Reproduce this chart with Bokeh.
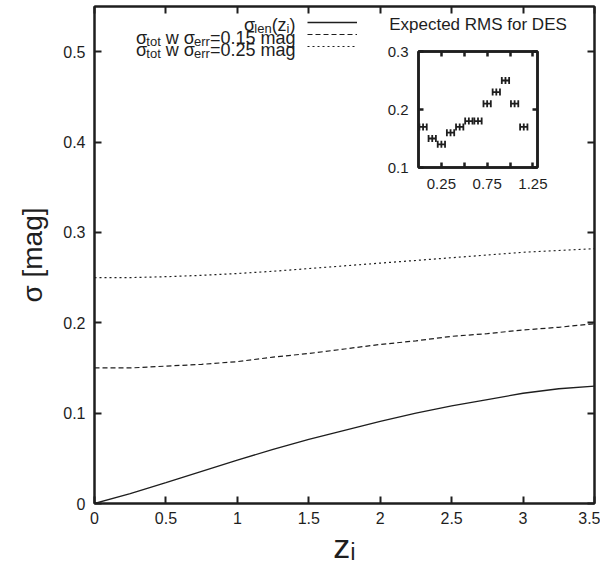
import math
from bokeh.plotting import figure
from bokeh.models import (Range1d, LinearAxis, FixedTicker, Label, Whisker, TeeHead,
                          ColumnDataSource, Legend, LegendItem)
from bokeh.embed import file_html
from bokeh.resources import INLINE

# ---------------- data ----------------
z = [0.0, 0.25, 0.5, 0.75, 1.0, 1.25, 1.5, 1.75, 2.0, 2.25, 2.5, 2.75, 3.0, 3.25, 3.5]
sigma_len = [0.000, 0.011, 0.023, 0.0355, 0.048, 0.060, 0.071, 0.081, 0.091, 0.100,
             0.108, 0.115, 0.122, 0.127, 0.130]
sigma_tot_015 = [0.150, 0.150, 0.152, 0.154, 0.157, 0.162, 0.166, 0.171, 0.176, 0.180,
                 0.185, 0.188, 0.192, 0.195, 0.199]
sigma_tot_025 = [0.250, 0.250, 0.251, 0.2525, 0.2545, 0.257, 0.260, 0.263, 0.266, 0.269,
                 0.272, 0.275, 0.278, 0.280, 0.282]

x_ticks = [0, 0.5, 1, 1.5, 2, 2.5, 3, 3.5]
x_tick_labels = ["0", "0.5", "1", "1.5", "2", "2.5", "3", "3.5"]
y_ticks = [0, 0.1, 0.2, 0.3, 0.4, 0.5]
y_tick_labels = ["0", "0.1", "0.2", "0.3", "0.4", "0.5"]

des_z = [0.05, 0.15, 0.25, 0.35, 0.45, 0.55, 0.65, 0.75, 0.85, 0.95, 1.05, 1.15]
des_rms = [0.17, 0.15, 0.14, 0.16, 0.17, 0.18, 0.18, 0.21, 0.23, 0.25, 0.21, 0.17]
des_zerr = [0.04] * 12
inset_title = "Expected RMS for DES"
inset_x_ticks = [0.25, 0.5, 0.75, 1.0, 1.25]
inset_x_tick_labels = ["0.25", "", "0.75", "", "1.25"]
inset_y_ticks = [0.1, 0.2, 0.3]
inset_y_tick_labels = ["0.1", "0.2", "0.3"]

legend_rows = [
    [("σ", 0), ("len", 1), ("(z", 0), ("i", 1), (")", 0)],
    [("σ", 0), ("tot", 1), (" w σ", 0), ("err", 1), ("=0.15 mag", 0)],
    [("σ", 0), ("tot", 1), (" w σ", 0), ("err", 1), ("=0.25 mag", 0)],
]

# ---------------- style ----------------
FONT = "Liberation Sans"
INK = "#1e1e1e"
X0, X1, Y0, Y1 = 0.0, 3.5, 0.0, 0.55

ARIAL = {' ': 278, '.': 278, '=': 584, 'a': 556, 'g': 556, 'm': 833, 'w': 722, 't': 278,
         'o': 556, 'e': 556, 'r': 333, 'l': 222, 'n': 556, 'z': 500, 'i': 222, '(': 333,
         ')': 333, 'σ': 570}
for d in "0123456789":
    ARIAL[d] = 556


def text_w(s, size):
    return sum(ARIAL.get(c, 556) for c in s) * size / 1000.0


def style_axis(ax, size="16px", show_labels=True, tick_len=7, lw=2):
    ax.major_tick_in = tick_len
    ax.major_tick_out = 0
    ax.minor_tick_in = 0
    ax.minor_tick_out = 0
    ax.major_tick_line_width = lw
    ax.major_tick_line_color = INK
    ax.axis_line_width = lw
    ax.axis_line_color = INK
    ax.major_label_text_font = FONT
    ax.major_label_text_color = INK
    if show_labels:
        ax.major_label_text_font_size = size
    else:
        ax.major_label_text_font_size = "1px"
        ax.major_label_standoff = 0
        ax.major_label_overrides = {t: "" for t in ax.ticker.ticks}


p = figure(width=600, height=568, x_range=Range1d(X0, X1), y_range=Range1d(Y0, Y1),
           output_backend="svg", toolbar_location=None,
           min_border_left=94, min_border_right=6, min_border_top=6, min_border_bottom=65)
p.xgrid.visible = False
p.ygrid.visible = False
p.outline_line_color = INK
p.outline_line_width = 2

p.xaxis.ticker = FixedTicker(ticks=x_ticks)
p.xaxis.major_label_overrides = {t: l for t, l in zip(x_ticks, x_tick_labels)}
p.yaxis.ticker = FixedTicker(ticks=y_ticks)
p.yaxis.major_label_overrides = {t: l for t, l in zip(y_ticks, y_tick_labels)}
style_axis(p.xaxis[0])
style_axis(p.yaxis[0])
p.xaxis.major_label_standoff = 8
p.yaxis.major_label_standoff = 9
p.yaxis.axis_label = "σ [mag]"
p.yaxis.axis_label_text_font = FONT
p.yaxis.axis_label_text_font_size = "28px"
p.yaxis.axis_label_text_font_style = "normal"
p.yaxis.axis_label_text_color = INK
p.yaxis.axis_label_standoff = 12
p.xaxis.axis_label = "zᵢ"
p.xaxis.axis_label_text_font = FONT
p.xaxis.axis_label_text_font_size = "34px"
p.xaxis.axis_label_text_font_style = "normal"
p.xaxis.axis_label_text_color = INK
p.xaxis.axis_label_standoff = 0

top_ax = LinearAxis(ticker=FixedTicker(ticks=x_ticks))
right_ax = LinearAxis(ticker=FixedTicker(ticks=y_ticks))
style_axis(top_ax, show_labels=False)
style_axis(right_ax, show_labels=False)
p.add_layout(top_ax, "above")
p.add_layout(right_ax, "right")

r_len = p.line(z, sigma_len, line_color=INK, line_width=1.3)
r_015 = p.line(z, sigma_tot_015, line_color=INK, line_width=1.2, line_dash="5 3")
r_025 = p.line(z, sigma_tot_025, line_color=INK, line_width=1.2, line_dash="2 3")

leg = Legend(items=[LegendItem(label=" ", renderers=[r]) for r in (r_len, r_015, r_025)],
             location=(213, 451), glyph_width=50, glyph_height=12, label_width=0,
             label_height=12, label_standoff=0, spacing=0, padding=0, margin=0,
             border_line_alpha=0, background_fill_alpha=0, label_text_font_size="1px")
p.add_layout(leg, "center")

# legend texts (right aligned to the left of the samples), anchored at frame top-left
MAIN_FS, SUB_FS, SUB_DROP = 18, 13, 4
RIGHT_EDGE = 201
row_base = [18, 31, 43]
for row, base in zip(legend_rows, row_base):
    total = sum(text_w(s, SUB_FS if sub else MAIN_FS) for s, sub in row)
    xo = RIGHT_EDGE - total
    for s, sub in row:
        fs = SUB_FS if sub else MAIN_FS
        lead = len(s) - len(s.lstrip(" "))
        p.add_layout(Label(x=X0, y=Y1, x_offset=xo + text_w(" " * lead, fs),
                           y_offset=-(base + (SUB_DROP if sub else 0)),
                           text=s.strip(" "), text_font=FONT, text_font_size=f"{fs}px",
                           text_color=INK, text_baseline="alphabetic", text_align="left"))
        xo += text_w(s, fs)

# ---------------- inset ----------------
pi_ = figure(width=190, height=190, x_range=Range1d(0, 1.3), y_range=Range1d(0.1, 0.3),
             output_backend="svg", toolbar_location=None,
             min_border_left=38, min_border_right=33, min_border_top=45, min_border_bottom=29)
pi_.styles = {"position": "absolute", "left": "380px", "top": "6px"}
pi_.xgrid.visible = False
pi_.ygrid.visible = False
pi_.outline_line_color = INK
pi_.outline_line_width = 2.5
pi_.background_fill_alpha = 0
pi_.border_fill_alpha = 0
pi_.xaxis.ticker = FixedTicker(ticks=inset_x_ticks)
pi_.xaxis.major_label_overrides = {t: l for t, l in zip(inset_x_ticks, inset_x_tick_labels)}
pi_.yaxis.ticker = FixedTicker(ticks=inset_y_ticks)
pi_.yaxis.major_label_overrides = {t: l for t, l in zip(inset_y_ticks, inset_y_tick_labels)}
style_axis(pi_.xaxis[0], size="15px", tick_len=5, lw=2.5)
style_axis(pi_.yaxis[0], size="15px", tick_len=5, lw=2.5)
pi_.xaxis.major_label_standoff = 11
pi_.yaxis.major_label_standoff = 10
ti = LinearAxis(ticker=FixedTicker(ticks=inset_x_ticks))
ri = LinearAxis(ticker=FixedTicker(ticks=inset_y_ticks))
style_axis(ti, show_labels=False, tick_len=5, lw=2.5)
style_axis(ri, show_labels=False, tick_len=5, lw=2.5)
ti.axis_label = inset_title
ti.axis_label_text_font = FONT
ti.axis_label_text_font_size = "17px"
ti.axis_label_text_font_style = "normal"
ti.axis_label_text_color = INK
ti.axis_label_standoff = 18
pi_.add_layout(ti, "above")
pi_.add_layout(ri, "right")

src = ColumnDataSource(dict(x=des_z, y=des_rms,
                            lo=[a - e for a, e in zip(des_z, des_zerr)],
                            hi=[a + e for a, e in zip(des_z, des_zerr)]))
wh = Whisker(source=src, base="y", lower="lo", upper="hi", dimension="width",
             line_color=INK, line_width=1.8,
             lower_head=TeeHead(size=7, line_width=1.8, line_color=INK),
             upper_head=TeeHead(size=7, line_width=1.8, line_color=INK))
pi_.add_layout(wh)
pi_.scatter("x", "y", source=src, marker="dash", angle=math.pi / 2, size=7,
            line_color=INK, line_width=1.8)

open("out.html", "w").write(file_html([p, pi_], INLINE))
